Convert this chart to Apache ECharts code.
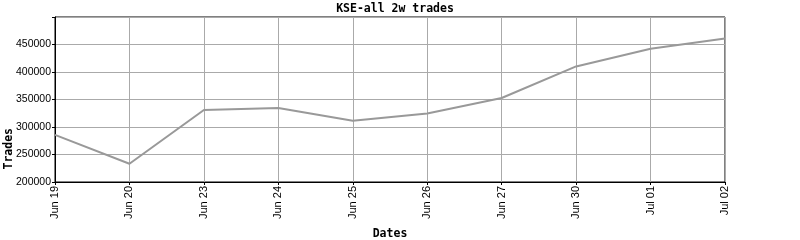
<!DOCTYPE html>
<html><head><meta charset="utf-8">
<script src="https://cdn.jsdelivr.net/npm/echarts@6/dist/echarts.min.js"></script>
<style>html,body{margin:0;padding:0;background:#fff}#c{width:800px;height:240px}</style>
</head><body><div id="c"></div>
<script>
const categories = ["Jun 19","Jun 20","Jun 23","Jun 24","Jun 25","Jun 26","Jun 27","Jun 30","Jul 01","Jul 02"];
const trades = [285700, 233200, 331000, 334600, 311400, 324500, 352700, 410100, 442200, 460900];
const yTicks = [200000, 250000, 300000, 350000, 400000, 450000];

const chart = echarts.init(document.getElementById('c'), null, {renderer:'canvas'});
chart.setOption({
  animation:false,
  backgroundColor:'#fff',
  title:{text:'KSE-all 2w trades', left:390, textAlign:'center', top:-2,
    textStyle:{fontFamily:'DejaVu Sans Mono', fontWeight:'bold', fontSize:11.5, color:'#000'}},
  grid:{left:55, right:75, top:17, bottom:58, show:true, borderColor:'#000', borderWidth:1,
    containLabel:false, outerBoundsMode:'none'},
  xAxis:{type:'category', data:categories, boundaryGap:false,
    name:'Dates', nameLocation:'middle', nameGap:46,
    nameTextStyle:{fontFamily:'DejaVu Sans Mono', fontWeight:'bold', fontSize:11.5, color:'#000'},
    axisLine:{lineStyle:{color:'#000'}},
    axisTick:{show:true, length:3, lineStyle:{color:'#000'}},
    axisLabel:{rotate:90, fontFamily:'Liberation Sans', fontSize:11, color:'#000', margin:4},
    splitLine:{show:true, lineStyle:{color:'#aaa', width:1}}},
  yAxis:{type:'value', min:200000, max:500000, interval:50000,
    axisLine:{show:true, lineStyle:{color:'#000'}},
    axisTick:{show:true, length:3, lineStyle:{color:'#000'}},
    axisLabel:{fontFamily:'Liberation Sans', fontSize:10.5, color:'#000', margin:4,
      formatter:function(v){return yTicks.indexOf(v)>=0 ? String(v) : '';}},
    splitLine:{show:true, lineStyle:{color:'#aaa', width:1}}},
  graphic:[{type:'text', left:3, top:128, rotation:Math.PI/2,
    style:{text:'Trades', font:'bold 11.5px "DejaVu Sans Mono"', fill:'#000'}}],
  series:[{type:'line', data:trades, symbol:'none', lineStyle:{color:'#999', width:2}}]
});
</script></body></html>
